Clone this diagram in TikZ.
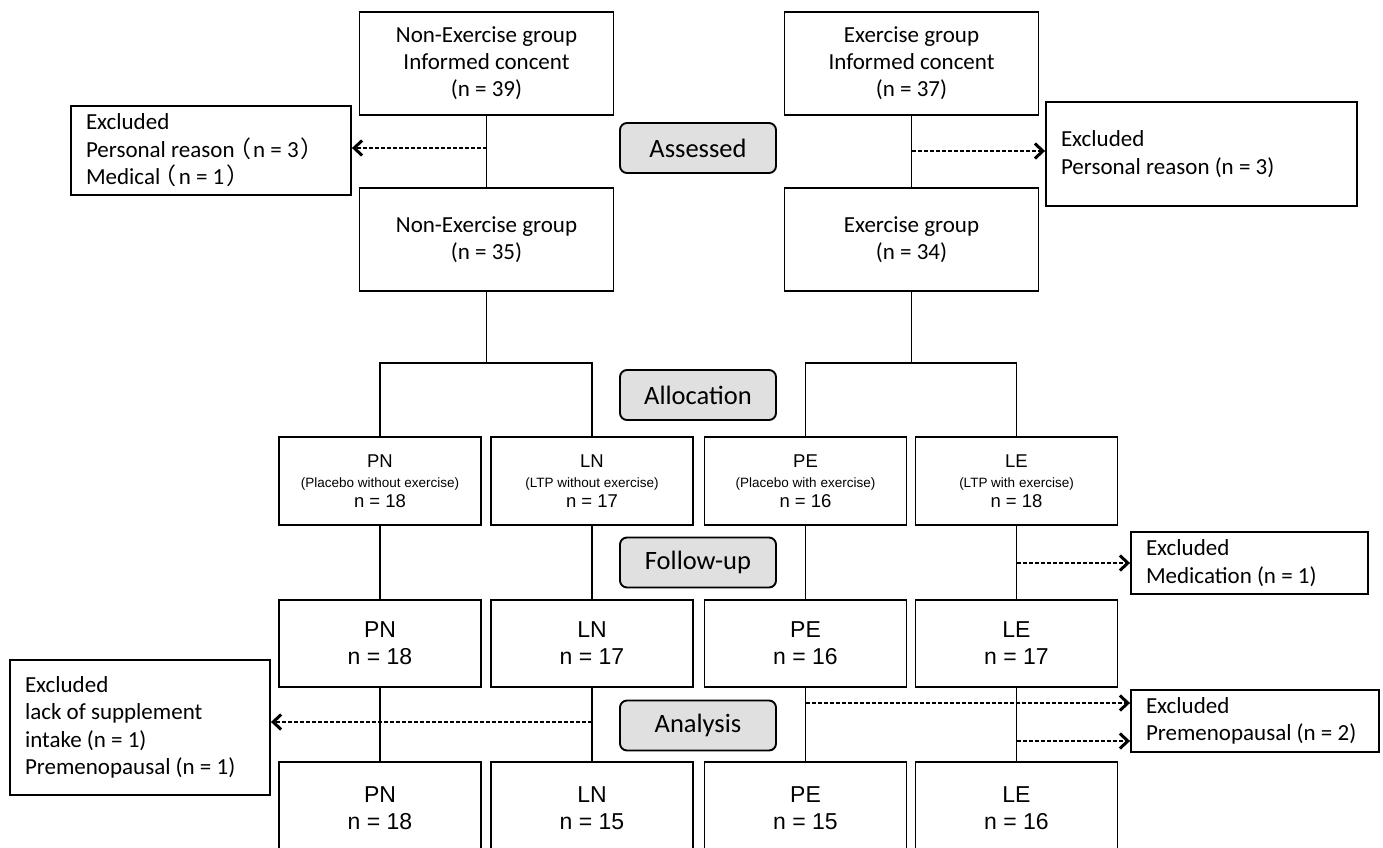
\documentclass[tikz,border=0pt]{standalone}
\usepackage{fontspec}
\setmainfont{Carlito}
\newfontfamily\arialf{Liberation Sans}
\newfontfamily\cjkf[RawFeature=+halt]{Noto Sans CJK JP}
\usetikzlibrary{arrows.meta,calc}
\definecolor{stagegray}{RGB}{224,224,224}
\newcommand{\jlp}{\kern5pt{\cjkf （}\kern2pt}
\newcommand{\jrp}{\kern2pt{\cjkf ）}}
\begin{document}
\begin{tikzpicture}[x=1pt,y=-1pt,
  box/.style={draw, line width=1.9pt, inner sep=0pt, align=flush center, font=\fontsize{23}{27}\selectfont},
  grp/.style={box, minimum width=254pt, minimum height=103pt},
  abox/.style={box, minimum width=202pt, minimum height=88pt, font=\arialf\fontsize{18.5}{20}\selectfont},
  fbox/.style={box, minimum width=202pt, font=\arialf\fontsize{23}{27}\selectfont},
  excl/.style={draw, line width=1.9pt, inner ysep=0pt, inner xsep=15pt, align=flush left, font=\fontsize{23}{27.5}\selectfont},
  stage/.style={draw, line width=1.9pt, fill=stagegray, rounded corners=7pt, minimum width=156pt, minimum height=50pt, inner sep=0pt, font=\fontsize{26.5}{30}\selectfont},
  link/.style={line width=1.5pt},
  dasharrow/.style={line width=1.6pt, dash pattern=on 4pt off 2pt, -{Straight Barb[length=8pt,width=15pt,line width=3pt]}},
]
\useasboundingbox (0,0) rectangle (1383,847);
\clip (0,0) rectangle (1383,847);
\fill[white] (0,0) rectangle (1383,847);

% group boxes
\node[grp] (ne1) at (486.5,63.5) {Non-Exercise group\\Informed concent\\(n = 39)};
\node[grp] (ne2) at (486.5,239.5) {Non-Exercise group\\(n = 35)};
\node[grp] (ex1) at (911.5,63.5) {Exercise group\\Informed concent\\(n = 37)};
\node[grp] (ex2) at (911.5,239.5) {Exercise group\\(n = 34)};

% excluded boxes
\node[excl, text width=250pt, minimum height=89pt] (xa) at (211,150.5)
  {Excluded\\Personal reason\jlp n = 3\jrp\\Medical\jlp n = 1\jrp};
\node[excl, text width=281pt, minimum height=104pt] (xb) at (1201.5,154)
  {Excluded\\Personal reason (n = 3)};
\node[excl, text width=207pt, minimum height=62pt] (xc) at (1249.5,563)
  {Excluded\\Medication (n = 1)};
\node[excl, text width=218pt, minimum height=62pt] (xd) at (1255,721)
  {Excluded\\Premenopausal (n = 2)};
\node[excl, text width=230pt, minimum height=135pt] (xe) at (140,727.5)
  {Excluded\\lack of supplement\\intake (n = 1)\\Premenopausal (n = 1)};

% stage labels
\node[stage] (sA) at (698,148) {Assessed};
\node[stage] (sB) at (698,395) {Allocation};
\node[stage] (sC) at (698,562.5) {Follow-up};
\node[stage] (sD) at (698,725.5) {Analysis};

% allocation row
\node[abox] (pn1) at (380,481) {PN\\{\fontsize{13.5}{20}\selectfont (Placebo without exercise)}\\n = 18};
\node[abox] (ln1) at (592,481) {LN\\{\fontsize{13.5}{20}\selectfont (LTP without exercise)}\\n = 17};
\node[abox] (pe1) at (805.5,481) {PE\\{\fontsize{13.5}{20}\selectfont (Placebo with exercise)}\\n = 16};
\node[abox] (le1) at (1016.5,481) {LE\\{\fontsize{13.5}{20}\selectfont (LTP with exercise)}\\n = 18};

% follow-up row
\node[fbox, minimum height=87pt] (pn2) at (380,643.5) {PN\\n = 18};
\node[fbox, minimum height=87pt] (ln2) at (592,643.5) {LN\\n = 17};
\node[fbox, minimum height=87pt] (pe2) at (805.5,643.5) {PE\\n = 16};
\node[fbox, minimum height=87pt] (le2) at (1016.5,643.5) {LE\\n = 17};

% analysis row (cut by the lower edge)
\node[fbox, minimum height=93pt] (pn3) at (380,808.5) {PN\\n = 18};
\node[fbox, minimum height=93pt] (ln3) at (592,808.5) {LN\\n = 15};
\node[fbox, minimum height=93pt] (pe3) at (805.5,808.5) {PE\\n = 15};
\node[fbox, minimum height=93pt] (le3) at (1016.5,808.5) {LE\\n = 16};

% solid connectors
\draw[link] (ne1.south) -- (ne2.north);
\draw[link] (ex1.south) -- (ex2.north);
\coordinate (bn) at (486.5,363);
\coordinate (be) at (911.5,363);
\draw[link] (ne2.south) -- (bn);
\draw[link] (ex2.south) -- (be);
\draw[link] (pn1.north) -- (pn1.north |- bn) -- (ln1.north |- bn) -- (ln1.north);
\draw[link] (pe1.north) -- (pe1.north |- be) -- (le1.north |- be) -- (le1.north);
\foreach \c in {pn,ln,pe,le}{
  \draw[link] (\c1.south) -- (\c2.north);
  \draw[link] (\c2.south) -- (\c3.north);
}

% dashed exclusions
\coordinate (d1) at (486.5,148);
\coordinate (d2) at (911.5,151);
\coordinate (d3) at (1016.5,563);
\coordinate (d4) at (592,722);
\coordinate (d5) at (805.5,703);
\coordinate (d6) at (1016.5,741);
\draw[dasharrow] (d1) -- (d1 -| xa.east);
\draw[dasharrow] (d2) -- (d2 -| xb.west);
\draw[dasharrow] (d3) -- (d3 -| xc.west);
\draw[dasharrow] (d4) -- (d4 -| xe.east);
\draw[dasharrow] (d5) -- (d5 -| xd.west);
\draw[dasharrow] (d6) -- (d6 -| xd.west);
\end{tikzpicture}
\end{document}
